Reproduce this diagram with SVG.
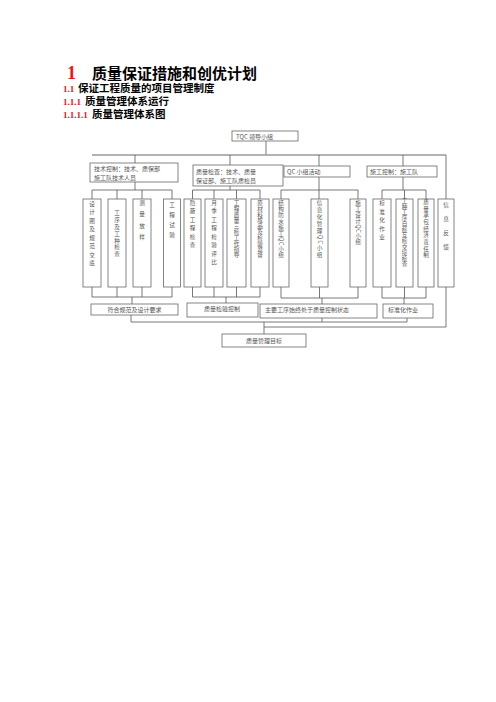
<svg xmlns="http://www.w3.org/2000/svg" width="496" height="702" viewBox="0 0 496 702">
<style>
.num{font-family:"Liberation Serif",serif;font-weight:bold;fill:#e8141b}
.cn{font-family:"Noto Sans CJK SC",sans-serif;font-weight:bold;fill:#000}
.n rect{fill:#fff;stroke:#666;stroke-width:0.8}
.t{font-family:"Noto Sans CJK SC",sans-serif;fill:#555;font-size:6px}
.v{font-family:"Noto Sans CJK SC",sans-serif;fill:#555;font-size:5.6px;writing-mode:vertical-rl;text-orientation:mixed}
.c line{stroke:#555;stroke-width:0.8}
.c .bus{stroke:#999;stroke-width:1.6}
</style>
<rect width="496" height="702" fill="#fff"/>
<g id="headings">
<text class="num" x="67" y="79" font-size="18">1</text>
<text class="cn" x="92" y="79" font-size="15">质量保证措施和创优计划</text>
<text class="num" x="63" y="92" font-size="9">1.1</text>
<text class="cn" x="78" y="92" font-size="10.5">保证工程质量的项目管理制度</text>
<text class="num" x="63" y="105" font-size="9">1.1.1</text>
<text class="cn" x="85" y="105" font-size="10.5">质量管理体系运行</text>
<text class="num" x="63" y="118" font-size="9">1.1.1.1</text>
<text class="cn" x="92" y="118" font-size="10.5">质量管理体系图</text>
</g>
<g id="connectors" class="c">
<line x1="266" y1="141" x2="266" y2="155"/>
<line class="bus" x1="92" y1="155" x2="446" y2="155"/>
<line x1="446" y1="155" x2="446" y2="327"/>
<line x1="135" y1="155" x2="135" y2="163"/>
<line x1="230" y1="155" x2="230" y2="165"/>
<line x1="319" y1="155" x2="319" y2="166"/>
<line x1="403" y1="155" x2="403" y2="166"/>
<line x1="135" y1="182" x2="135" y2="190"/>
<line x1="92" y1="190" x2="172" y2="190"/>
<line x1="92" y1="190" x2="92" y2="199"/>
<line x1="117" y1="190" x2="117" y2="199"/>
<line x1="142" y1="190" x2="142" y2="199"/>
<line x1="172" y1="190" x2="172" y2="199"/>
<line x1="230" y1="186" x2="230" y2="190"/>
<line x1="192.5" y1="190" x2="260" y2="190"/>
<line x1="192.5" y1="190" x2="192.5" y2="199"/>
<line x1="214" y1="190" x2="214" y2="199"/>
<line x1="236.5" y1="190" x2="236.5" y2="199"/>
<line x1="260" y1="190" x2="260" y2="199"/>
<line x1="319" y1="177" x2="319" y2="199"/>
<line x1="281" y1="190" x2="358" y2="190"/>
<line x1="281" y1="190" x2="281" y2="199"/>
<line x1="358" y1="190" x2="358" y2="199"/>
<line x1="403" y1="177" x2="403" y2="190"/>
<line x1="382" y1="190" x2="426" y2="190"/>
<line x1="382" y1="190" x2="382" y2="199"/>
<line x1="404.5" y1="190" x2="404.5" y2="199"/>
<line x1="426" y1="190" x2="426" y2="199"/>
<line x1="92" y1="287" x2="92" y2="297"/>
<line x1="117" y1="287" x2="117" y2="297"/>
<line x1="142" y1="287" x2="142" y2="297"/>
<line x1="172" y1="287" x2="172" y2="297"/>
<line x1="92" y1="297" x2="172" y2="297"/>
<line x1="132" y1="297" x2="132" y2="304"/>
<line x1="192.5" y1="287" x2="192.5" y2="297"/>
<line x1="214" y1="287" x2="214" y2="297"/>
<line x1="236.5" y1="287" x2="236.5" y2="297"/>
<line x1="260" y1="287" x2="260" y2="297"/>
<line x1="192.5" y1="297" x2="260" y2="297"/>
<line x1="226" y1="297" x2="226" y2="303"/>
<line x1="281" y1="287" x2="281" y2="298"/>
<line x1="319.5" y1="287" x2="319.5" y2="298"/>
<line x1="358" y1="287" x2="358" y2="298"/>
<line x1="281" y1="298" x2="358" y2="298"/>
<line x1="322" y1="298" x2="322" y2="304"/>
<line x1="382" y1="287" x2="382" y2="298"/>
<line x1="404.5" y1="287" x2="404.5" y2="298"/>
<line x1="426" y1="287" x2="426" y2="298"/>
<line x1="382" y1="298" x2="426" y2="298"/>
<line x1="404" y1="298" x2="404" y2="304"/>
<line x1="131" y1="315" x2="131" y2="322"/>
<line x1="322" y1="318" x2="322" y2="322"/>
<line x1="407" y1="318" x2="407" y2="322"/>
<line x1="131" y1="322" x2="407" y2="322"/>
<line x1="264" y1="322" x2="264" y2="334"/>
<line x1="264" y1="327" x2="446" y2="327"/>
</g>
<g id="n-tqc" class="n"><rect x="232" y="131" width="66" height="10"/><text class="t" x="236" y="138.5">TQC 领导小组</text></g>
<g id="n-tech" class="n"><rect x="90" y="163" width="88" height="19"/><text class="t" x="94" y="171" font-size="6.4">技术控制：技术、质保部</text><text class="t" x="94" y="179.5" font-size="6.4">施工队技术人员</text></g>
<g id="n-check" class="n"><rect x="193" y="165" width="90" height="21"/><text class="t" x="196" y="173.5" font-size="7">质量检查：技术、质量</text><text class="t" x="196" y="182.5" font-size="7">保证部、施工队质检员</text></g>
<g id="n-qc" class="n"><rect x="284" y="166" width="66" height="11"/><text class="t" x="287" y="173.5">QC 小组活动</text></g>
<g id="n-con" class="n"><rect x="367" y="166" width="70" height="11"/><text class="t" x="370" y="173.5">施工控制：施工队</text></g>
<g id="n-b1" class="n"><rect x="83" y="199" width="18" height="88"/><text class="v" x="92" y="201" textLength="65" lengthAdjust="spacing">设计图及规范交底</text></g>
<g id="n-b2" class="n"><rect x="108" y="199" width="18" height="88"/><text class="v" x="117" y="210" textLength="47" lengthAdjust="spacing">工序及工种检查</text></g>
<g id="n-b3" class="n"><rect x="133" y="199" width="18" height="88"/><text class="v" x="142" y="200" textLength="40" lengthAdjust="spacing">测量放样</text></g>
<g id="n-b4" class="n"><rect x="163.5" y="199" width="17" height="88"/><text class="v" x="172" y="202" textLength="36" lengthAdjust="spacing">工程试验</text></g>
<g id="n-b5" class="n"><rect x="184" y="199" width="17" height="88"/><text class="v" x="192.5" y="200" textLength="48" lengthAdjust="spacing">隐蔽工程检查</text></g>
<g id="n-b6" class="n"><rect x="205" y="199" width="18" height="88"/><text class="v" x="214" y="200" textLength="65" lengthAdjust="spacing">月季工程检验评比</text></g>
<g id="n-b7" class="n"><rect x="227" y="199" width="19" height="88"/><text class="v" x="236.5" y="200" textLength="58" lengthAdjust="spacing">工程质量三检工作指导</text></g>
<g id="n-b8" class="n"><rect x="251" y="199" width="18" height="88"/><text class="v" x="260" y="200" textLength="58" lengthAdjust="spacing">原材料成品及检验监督</text></g>
<g id="n-b9" class="n"><rect x="273" y="199" width="16" height="88"/><text class="v" x="281" y="200" textLength="58" lengthAdjust="spacing">结构防水施工QC小组</text></g>
<g id="n-b10" class="n"><rect x="311" y="199" width="17" height="88"/><text class="v" x="319.5" y="200" textLength="58" lengthAdjust="spacing">信息化管理QC小组</text></g>
<g id="n-b11" class="n"><rect x="350" y="199" width="16" height="88"/><text class="v" x="358" y="200" textLength="45" lengthAdjust="spacing">施工设计QC小组</text></g>
<g id="n-b12" class="n"><rect x="373" y="199" width="18" height="88"/><text class="v" x="382" y="200" textLength="40" lengthAdjust="spacing">标准化作业</text></g>
<g id="n-b13" class="n"><rect x="396" y="199" width="17" height="88"/><text class="v" x="404.5" y="198" textLength="69" lengthAdjust="spacing">工种工序自检互检交接检查</text></g>
<g id="n-b14" class="n"><rect x="418" y="199" width="16" height="88"/><text class="v" x="426" y="199" textLength="59" lengthAdjust="spacing">质量承包经济责任制</text></g>
<g id="n-b15" class="n"><rect x="438" y="199" width="16" height="88"/><text class="v" x="446" y="202" textLength="48" lengthAdjust="spacing">信息反馈</text></g>
<g id="n-l1" class="n"><rect x="91" y="304" width="87" height="11"/><text class="t" x="134.5" y="311.5" font-size="5.5" text-anchor="middle">符合规范及设计要求</text></g>
<g id="n-l2" class="n"><rect x="187" y="303" width="71" height="14"/><text class="t" x="222" y="310.5" font-size="6.5" text-anchor="middle">质量检验控制</text></g>
<g id="n-l3" class="n"><rect x="260" y="304" width="117" height="14"/><text class="t" x="265" y="311.5">主要工序始终处于质量控制状态</text></g>
<g id="n-l4" class="n"><rect x="383" y="304" width="50" height="14"/><text class="t" x="388" y="311.5">标准化作业</text></g>
<g id="n-goal" class="n"><rect x="222" y="334" width="84" height="13"/><text class="t" x="264" y="342.5" font-size="6.5" text-anchor="middle">质量管理目标</text></g>
</svg>
